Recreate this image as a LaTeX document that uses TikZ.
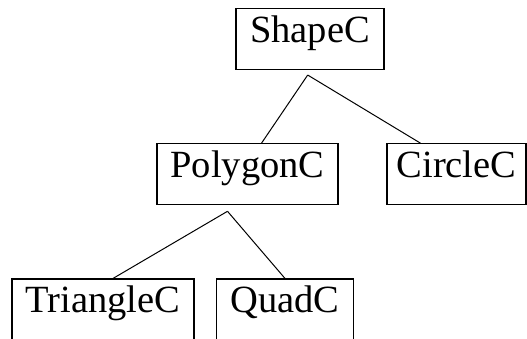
\documentclass[tikz,border=0pt]{standalone}
\usepackage{fontspec}
\setmainfont{Liberation Serif}
\usetikzlibrary{calc}
\begin{document}
\begin{tikzpicture}[x=1pt,y=1pt,
  cls/.style={draw, line width=1.1pt, inner sep=0pt, minimum height=61pt,
    font=\fontsize{38.5}{46}\selectfont, text height=0.66em, text depth=0pt, anchor=center},
  conn/.style={line width=1pt}]
\useasboundingbox (0,0) rectangle (527,339);
\node[cls, minimum width=148pt] (shape) at (310,300) {ShapeC};
\node[cls, minimum width=181pt] (polygon) at (247.5,164.75) {PolygonC};
\node[cls, minimum width=139pt] (circle) at (456.5,164.75) {CircleC};
\node[cls, minimum width=182pt] (triangle) at (103,29.5) {TriangleC};
\node[cls, minimum width=136.5pt] (quad) at (285,29.5) {QuadC};
\draw[conn] ([xshift=-2.3pt,yshift=-5pt]shape.south) -- ([xshift=14pt]polygon.north);
\draw[conn] ([xshift=-2.3pt,yshift=-5pt]shape.south) -- ([xshift=-36pt]circle.north);
\draw[conn] ([xshift=-20pt,yshift=-6pt]polygon.south) -- ([xshift=10pt]triangle.north);
\draw[conn] ([xshift=-20pt,yshift=-6pt]polygon.south) -- (quad.north);
\end{tikzpicture}
\end{document}
